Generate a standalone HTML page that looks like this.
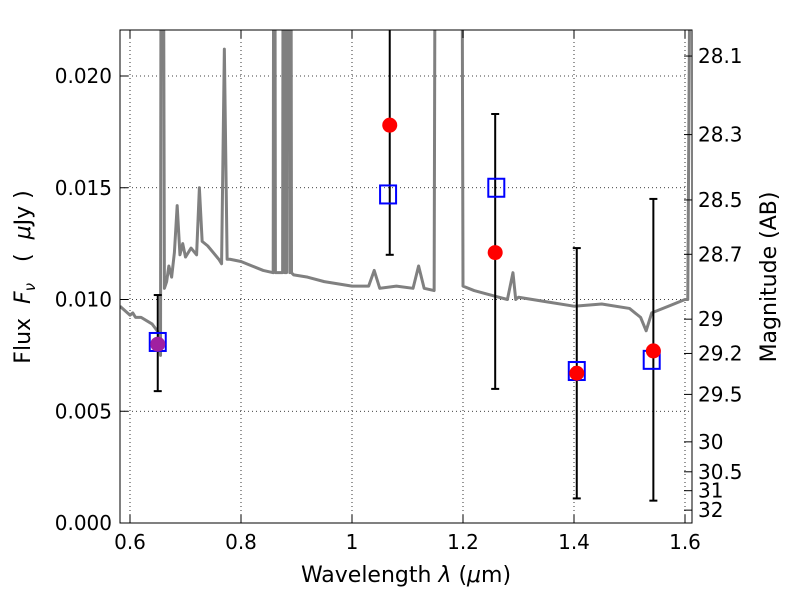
<!DOCTYPE html>
<html><head><meta charset="utf-8"><style>
body{margin:0;background:#fff;}
svg text{font-family:"DejaVu Sans","Liberation Sans",sans-serif;fill:#000;}
</style></head><body>
<svg id="chart" width="800" height="600" viewBox="0 0 800 600" xmlns="http://www.w3.org/2000/svg">
<defs><clipPath id="clip"><rect x="120" y="30" width="572" height="493"/></clipPath></defs>
<g id="grid"></g>
<g id="spec" clip-path="url(#clip)"></g>
<g id="marks" clip-path="url(#clip)"></g>
<rect x="120" y="30" width="572" height="493" fill="none" stroke="#000" stroke-width="1"/>
<g id="axes"></g>
<text x="406" y="582" font-size="22" text-anchor="middle">Wavelength  <tspan font-style="italic">λ</tspan> (<tspan font-style="italic">μ</tspan>m)</text>
<text transform="translate(30,277) rotate(-90)" font-size="22" text-anchor="middle" xml:space="preserve">Flux  <tspan font-style="italic">F</tspan><tspan font-style="italic" font-size="15" dy="5">ν</tspan><tspan dy="-5">   (  </tspan><tspan font-style="italic">μ</tspan>Jy )</text>
<text transform="translate(776,277) rotate(-90)" font-size="22" text-anchor="middle">Magnitude (AB)</text>
</svg>
<script>
const xTicks=[0.6,0.8,1.0,1.2,1.4,1.6];
const xTickLabels=["0.6","0.8","1","1.2","1.4","1.6"];
const yTicks=[0,0.005,0.010,0.015,0.020];
const yTickLabels=["0.000","0.005","0.010","0.015","0.020"];
const magTicks=[28.1,28.3,28.5,28.7,29,29.2,29.5,30,30.5,31,32];
const specWave=[0.582,0.60,0.605,0.61,0.62,0.64,0.652,0.655,0.656,0.66,0.662,0.666,0.670,0.675,0.68,0.685,0.69,0.695,0.70,0.71,0.72,0.725,0.73,0.74,0.76,0.765,0.77,0.775,0.78,0.80,0.82,0.84,0.858,0.859,0.861,0.862,0.875,0.876,0.878,0.879,0.882,0.883,0.887,0.888,0.890,0.891,0.895,0.92,0.95,1.0,1.03,1.04,1.05,1.08,1.11,1.12,1.13,1.148,1.15,1.198,1.2,1.22,1.25,1.28,1.29,1.295,1.30,1.35,1.40,1.45,1.50,1.52,1.53,1.54,1.57,1.60,1.605,1.61];
const specFlux=[0.0097,0.0093,0.0094,0.0092,0.0092,0.0089,0.0085,0.0075,0.030,0.030,0.0105,0.0108,0.0115,0.0110,0.0121,0.0142,0.0120,0.0125,0.0119,0.0123,0.0120,0.0150,0.0126,0.0124,0.0118,0.0116,0.0212,0.0118,0.0118,0.0117,0.0115,0.0113,0.0112,0.030,0.030,0.0112,0.0112,0.030,0.030,0.0112,0.0112,0.030,0.030,0.0112,0.030,0.0112,0.0111,0.0110,0.0108,0.0106,0.0106,0.0113,0.0105,0.0106,0.0105,0.0115,0.0105,0.0104,0.030,0.030,0.0106,0.0104,0.0102,0.0100,0.0112,0.0100,0.0101,0.0099,0.0097,0.0098,0.0096,0.0092,0.0086,0.0094,0.0097,0.0100,0.0100,0.030];
const obsWave=[0.65,1.068,1.258,1.405,1.543];
const obsFlux=[0.0080,0.0178,0.0121,0.0067,0.0077];
const errLow=[0.0059,0.0120,0.0060,0.0011,0.0010];
const errHigh=[0.0102,0.0240,0.0183,0.0123,0.0145];
const modelWave=[0.65,1.065,1.26,1.405,1.54];
const modelFlux=[0.0081,0.0147,0.0150,0.0068,0.0073];
const X=v=>130+(v-0.6)*555;
const Y=v=>523-v*22350;
const NS="http://www.w3.org/2000/svg";
function mk(p,t,a){const e=document.createElementNS(NS,t);for(const k in a)e.setAttribute(k,a[k]);p.appendChild(e);return e;}
const grid=document.getElementById('grid'),axes=document.getElementById('axes');
xTicks.forEach((t,i)=>{const x=X(t);
 const g=mk(grid,'line',{x1:x,x2:x,y1:30,y2:523,stroke:'#000','stroke-dasharray':'1,3','stroke-width':0.8});
 
 mk(axes,'line',{x1:x,x2:x,y1:523,y2:515,stroke:'#000'});mk(axes,'line',{x1:x,x2:x,y1:30,y2:38,stroke:'#000'});
 const l=mk(axes,'text',{x:x,y:549,'font-size':20,'text-anchor':'middle'});l.textContent=xTickLabels[i];
 });
yTicks.forEach((t,i)=>{const y=Y(t);
 const g=mk(grid,'line',{x1:120,x2:692,y1:y,y2:y,stroke:'#000','stroke-dasharray':'1,3','stroke-width':0.8});
 
 mk(axes,'line',{x1:120,x2:128,y1:y,y2:y,stroke:'#000'});
 const l=mk(axes,'text',{x:112,y:y+7,'font-size':20,'text-anchor':'end'});l.textContent=yTickLabels[i];
 });
magTicks.forEach(m=>{const y=Y(Math.pow(10,(23.9-m)/2.5));
 mk(axes,'line',{x1:692,x2:684,y1:y,y2:y,stroke:'#000'});
 const l=mk(axes,'text',{x:698,y:y+7,'font-size':20});l.textContent=String(m);
 });
const spec=document.getElementById('spec');
const pl=mk(spec,'polyline',{points:specWave.map((w,i)=>X(w)+','+Y(specFlux[i])).join(' '),fill:'none',stroke:'#808080','stroke-width':3,'stroke-linejoin':'round'});

const marks=document.getElementById('marks');
obsWave.forEach((w,i)=>{const x=X(w);
 const e=mk(marks,'g',{stroke:'#000','stroke-width':2});
 
 mk(e,'line',{x1:x,x2:x,y1:Y(errLow[i]),y2:Y(errHigh[i])});
 mk(e,'line',{x1:x-4,x2:x+4,y1:Y(errLow[i]),y2:Y(errLow[i])});
 mk(e,'line',{x1:x-4,x2:x+4,y1:Y(errHigh[i]),y2:Y(errHigh[i])});});
modelWave.forEach((w,i)=>{
 const r=mk(marks,'rect',{x:X(w)-8,y:Y(modelFlux[i])-9,width:16,height:18,fill:'none',stroke:'#0000ff','stroke-width':2});
 });
obsWave.forEach((w,i)=>{
 const c=mk(marks,'circle',{cx:X(w),cy:Y(obsFlux[i]),r:7.5,fill:i===0?'#a020a0':'#ff0000'});
 });
</script>
</body></html>
